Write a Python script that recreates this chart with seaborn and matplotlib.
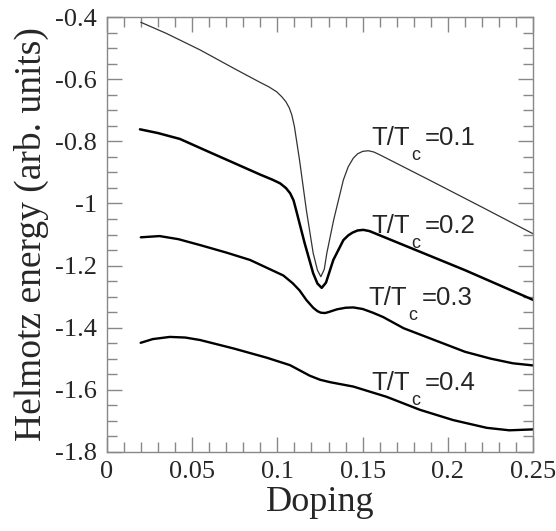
import matplotlib
matplotlib.use("Agg")
import matplotlib.pyplot as plt
from matplotlib.ticker import MultipleLocator, FormatStrFormatter
import seaborn as sns
import pandas as pd

# values
dop_01 = [0.02, 0.035, 0.0547, 0.075, 0.09, 0.095, 0.0996, 0.1026, 0.105, 0.107, 0.1085, 0.110,
          0.113, 0.117, 0.121, 0.1235, 0.1255, 0.1275, 0.129, 0.133, 0.1387, 0.1415, 0.1445,
          0.147, 0.150, 0.1533, 0.1565, 0.160, 0.19, 0.22, 0.25]
e_01 = [-0.416, -0.452, -0.505, -0.566, -0.610, -0.624, -0.640, -0.656, -0.672, -0.692, -0.715,
        -0.752, -0.860, -1.021, -1.160, -1.215, -1.236, -1.212, -1.160, -1.053, -0.924, -0.882,
        -0.854, -0.840, -0.832, -0.830, -0.834, -0.843, -0.927, -1.012, -1.098]

dop_02 = [0.0195, 0.03, 0.0429, 0.06, 0.074, 0.09, 0.097, 0.1016, 0.105, 0.1075, 0.1095, 0.111,
          0.116, 0.121, 0.1235, 0.126, 0.1285, 0.1328, 0.1387, 0.1415, 0.144, 0.147, 0.1504,
          0.154, 0.158, 0.17, 0.19, 0.21, 0.23, 0.25]
e_02 = [-0.761, -0.773, -0.792, -0.834, -0.868, -0.907, -0.923, -0.935, -0.950, -0.967, -0.990,
        -1.021, -1.128, -1.225, -1.258, -1.272, -1.255, -1.182, -1.118, -1.103, -1.094, -1.087,
        -1.085, -1.089, -1.098, -1.125, -1.170, -1.215, -1.263, -1.311]

dop_03 = [0.02, 0.031, 0.042, 0.0547, 0.07, 0.084, 0.0957, 0.1035, 0.109, 0.113, 0.117, 0.121,
          0.1235, 0.1255, 0.128, 0.130, 0.135, 0.140, 0.1445, 0.150, 0.156, 0.162, 0.174, 0.192,
          0.21, 0.225, 0.238, 0.25]
e_03 = [-1.109, -1.105, -1.115, -1.134, -1.158, -1.182, -1.212, -1.232, -1.257, -1.280, -1.311,
        -1.336, -1.347, -1.352, -1.353, -1.350, -1.341, -1.336, -1.335, -1.340, -1.352, -1.366,
        -1.402, -1.440, -1.478, -1.500, -1.515, -1.522]

dop_04 = [0.0199, 0.027, 0.037, 0.046, 0.0547, 0.0742, 0.0938, 0.1074, 0.119, 0.125, 0.131,
          0.1445, 0.164, 0.1836, 0.203, 0.2227, 0.236, 0.25]
e_04 = [-1.449, -1.437, -1.430, -1.432, -1.440, -1.467, -1.497, -1.521, -1.555, -1.568, -1.576,
        -1.590, -1.623, -1.665, -1.698, -1.723, -1.731, -1.728]

ratios = ["0.1", "0.2", "0.3", "0.4"]
label_x = [0.155, 0.155, 0.1533, 0.155]
label_y = [-0.811, -1.094, -1.327, -1.601]

curves = [(dop_01, e_01), (dop_02, e_02), (dop_03, e_03), (dop_04, e_04)]
widths = [0.9, 1.8, 1.7, 1.7]
colors = ["#333333", "black", "black", "black"]

sns.set_theme(style="ticks")
plt.rcParams["font.family"] = ["Liberation Serif", "DejaVu Serif"]

fig = plt.figure(figsize=(5.56, 5.31), dpi=100)
ax = fig.add_axes([0.1919, 0.1493, 0.9592 - 0.1919, 0.9674 - 0.1493])

for (x, y), lw, c in zip(curves, widths, colors):
    df = pd.DataFrame({"Doping": x, "E": y})
    sns.lineplot(data=df, x="Doping", y="E", ax=ax, color=c, linewidth=lw,
                 estimator=None, sort=False, legend=False)

# labels "T/T_c=..." built from pieces so the subscript sits low like the original
sans = ["Liberation Sans", "DejaVu Sans"]
for r, lx, ly in zip(ratios, label_x, label_y):
    ax.annotate("T/T", (lx, ly), fontsize=18.5, family=sans, va="baseline", ha="left")
    ax.annotate("c", (lx, ly), xytext=(28.5, -11), textcoords="offset points",
                fontsize=13, family=sans, va="baseline", ha="left")
    ax.annotate("=" + r, (lx, ly), xytext=(38.5, 0), textcoords="offset points",
                fontsize=18.5, family=sans, va="baseline", ha="left")

ax.set_xlim(0, 0.25)
ax.set_ylim(-1.8, -0.4)
ax.xaxis.set_major_locator(MultipleLocator(0.05))
ax.xaxis.set_minor_locator(MultipleLocator(0.01))
ax.yaxis.set_major_locator(MultipleLocator(0.2))
ax.yaxis.set_minor_locator(MultipleLocator(0.05))
ax.xaxis.set_major_formatter(FormatStrFormatter("%g"))
ax.yaxis.set_major_formatter(FormatStrFormatter("%g"))

gray = "#888888"
for sp in ax.spines.values():
    sp.set_color(gray)
    sp.set_linewidth(1.0)
ax.tick_params(which="both", direction="in", top=True, right=True, color=gray, width=1.0)
ax.tick_params(which="major", length=11, labelsize=19, pad=7)
ax.tick_params(which="minor", length=7)

ax.set_xlabel("Doping", fontsize=26, labelpad=2)
ax.set_ylabel("Helmotz energy (arb. units)", fontsize=27, labelpad=4)

fig.savefig("out.png", dpi=100)
